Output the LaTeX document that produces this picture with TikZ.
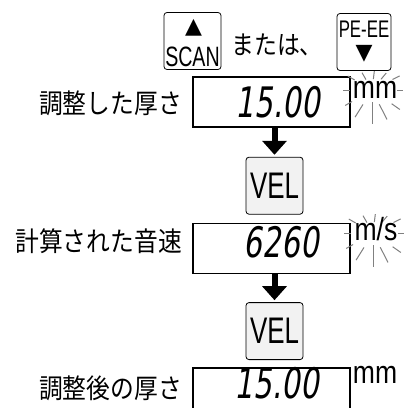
\documentclass[tikz,border=0pt]{standalone}
\usepackage{fontspec}
\setmainfont{Liberation Sans}[FakeStretch=0.7]
\newfontfamily\unitfont{Liberation Sans}[FakeStretch=0.83]
\newfontfamily\jpfont{Noto Sans CJK JP}[FakeStretch=0.88]
\newfontfamily\segfont{DejaVu Sans}[FakeSlant=0.15,FakeStretch=0.7]
\newfontfamily\symfont{DejaVu Sans}
\usetikzlibrary{arrows.meta,positioning}

\tikzset{
  display/.style={draw, line width=1.6pt, minimum width=157pt, minimum height=50pt, inner sep=0pt},
  keybox/.style={draw, rounded corners=3pt, line width=0.8pt, inner sep=0pt, minimum width=57pt, minimum height=57pt},
  readout/.style={font=\segfont\fontsize{42}{42}\selectfont, anchor=base east, inner sep=0pt},
  caption/.style={font=\jpfont\fontsize{27}{27}\selectfont, anchor=east, inner sep=0pt},
  unit/.style={font=\unitfont\fontsize{32}{32}\selectfont, anchor=base, inner sep=0pt},
  flow/.style={-{Triangle[width=24pt,length=14pt]}, line width=6pt, shorten >=2pt},
  ray/.style={gray, line width=1pt},
}

% blinking marks round a unit: angle/inner/outer
\newcommand\blinkrays[1]{%
  \foreach \a/\r/\s in {0/25/31, 27/23/31, 50/14/22, 83/11/19, 120/12/20, 150/20/28,
                        180/22/29, 210/23/31, 238/17/32, 270/12/34, 297/16/33, 325/24/34}
    \draw[ray, shift={(#1)}] (-\a:\r) -- (-\a:\s);
}

\begin{document}
\begin{tikzpicture}[x=1pt, y=-1pt]
    \useasboundingbox (0,0) rectangle (404,408);
    \clip (0,0) rectangle (404,408);

    % keys on top
    \node[keybox] (scan) at (192.5,41) {};
    \node[font=\symfont\fontsize{22}{22}\selectfont, inner sep=0pt] (scanup) at (193.5,28) {▲};
    \node[font=\fontsize{28}{28}\selectfont, inner sep=0pt] (scantxt) at (192.5,57) {SCAN};
    \node[font=\jpfont\fontsize{26}{26}\selectfont, inner sep=0pt] (either) at (277,45) {または、};
    \node[keybox, minimum width=54pt] (peee) at (364,42) {};
    \node[font=\fontsize{24}{24}\selectfont, inner sep=0pt] (peeetxt) at (364,29) {PE-EE};
    \node[font=\symfont\fontsize{22}{22}\selectfont, inner sep=0pt] (peeedown) at (364,54) {▼};

    % adjusted thickness
    \node[display] (disp1) at (271.5,102) {};
    \node[readout] (val1) at (320,117) {15.00};
    \node[caption] (cap1) at (182,103) {調整した厚さ};
    \blinkrays{372,90}
    \node[unit] (unit1) at (375,98) {mm};

    \node[keybox, fill=gray!10, font=\fontsize{37}{37}\selectfont, below=29pt of disp1, xshift=3pt] (vel1) {VEL};
    \draw[flow] (disp1.south -| vel1) -- (vel1.north);

    % computed velocity
    \node[display, below=8pt of vel1, xshift=-3pt] (disp2) {};
    \node[readout] (val2) at (319,257) {6260};
    \node[caption] (cap2) at (182,241) {計算された音速};
    \blinkrays{373,233}
    \node[unit] (unit2) at (376,240) {m/s};

    \node[keybox, fill=gray!10, font=\fontsize{37}{37}\selectfont, below=28pt of disp2, xshift=3pt] (vel2) {VEL};
    \draw[flow] (disp2.south -| vel2) -- (vel2.north);

    % thickness after adjustment
    \node[display, below=7pt of vel2, xshift=-3pt] (disp3) {};
    \node[readout] (val3) at (319,398) {15.00};
    \node[caption] (cap3) at (182,388) {調整後の厚さ};
    \node[unit] (unit3) at (375,383) {mm};
\end{tikzpicture}
\end{document}
